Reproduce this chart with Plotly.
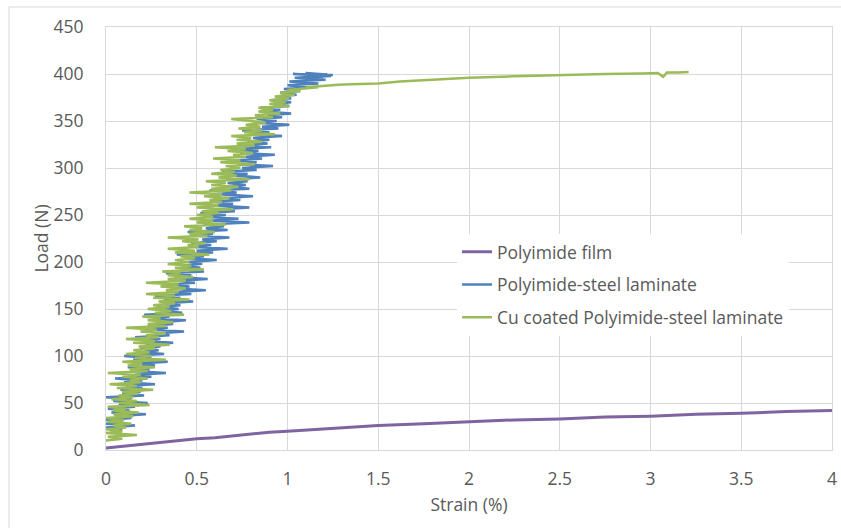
import plotly.graph_objects as go

# ---------------- data ----------------
film_strain = [0.0, 0.1, 0.2, 0.3, 0.4, 0.5, 0.6, 0.7, 0.8, 0.9, 1.0, 1.25, 1.5, 1.75,
               2.0, 2.25, 2.5, 2.75, 3.0, 3.25, 3.5, 3.75, 4.0]
film_load = [2, 4, 6, 8, 10, 12, 13, 15, 17, 19, 20, 23, 26, 28,
             30, 32, 33, 35, 36, 38, 39, 41, 42]

steel_strain = [
    0.09, 0.00, 0.16, 0.00, 0.09, 0.00, 0.14, 0.05, 0.22, 0.03, 0.13, 0.01, 0.16, 0.07, 0.23, 0.04,
    0.14, 0.00, 0.21, 0.09, 0.19, 0.08, 0.20, 0.11, 0.27, 0.10, 0.20, 0.05, 0.25, 0.16, 0.33, 0.14,
    0.24, 0.12, 0.27, 0.18, 0.34, 0.15, 0.25, 0.10,
    0.32, 0.20, 0.29, 0.19, 0.30, 0.22, 0.37, 0.21, 0.30, 0.16, 0.35, 0.27, 0.43, 0.25, 0.34, 0.23,
    0.37, 0.29, 0.44, 0.26, 0.35, 0.21, 0.42, 0.31, 0.40,
    0.30, 0.41, 0.33, 0.48, 0.32, 0.41, 0.27, 0.47, 0.38, 0.55, 0.36, 0.46, 0.34, 0.49, 0.40, 0.56,
    0.38, 0.47, 0.33, 0.54, 0.43, 0.52, 0.42, 0.53, 0.45,
    0.61, 0.44, 0.54, 0.39, 0.59, 0.50, 0.67, 0.49, 0.58, 0.47, 0.61, 0.53, 0.68, 0.50, 0.59, 0.45,
    0.67, 0.55, 0.65, 0.54, 0.79, 0.57, 0.73, 0.56, 0.66,
    0.52, 0.71, 0.63, 0.79, 0.61, 0.70, 0.59, 0.74, 0.65, 0.81, 0.62, 0.72, 0.57, 0.79, 0.67, 0.77,
    0.67, 0.78, 0.70, 0.85, 0.69, 0.78, 0.64, 0.83, 0.75,
    0.92, 0.73, 0.83, 0.71, 0.86, 0.77, 0.93, 0.74, 0.84, 0.69, 0.91, 0.79, 0.89, 0.78, 0.90, 0.81,
    0.97, 0.80, 0.90, 0.75, 0.95, 0.86, 1.01, 0.85, 0.94,
    0.83, 0.97, 0.89, 1.02, 0.87, 0.96, 0.85, 1.01, 0.92, 1.02, 0.91, 1.02, 0.94, 1.05, 0.96, 1.07,
    0.98, 1.12, 1.00, 1.17, 1.01, 1.21, 1.04, 1.24,
    1.03, 1.25, 1.10, 1.19, 1.22, 1.14]
steel_load = [
    22, 24, 26, 28, 30, 32, 34, 36, 38, 40, 42, 44, 46, 48, 50, 52,
    54, 56, 58, 60, 62, 64, 66, 68, 70, 72, 74, 76, 78, 80, 82, 84,
    86, 88, 90, 92, 94, 96, 98, 100,
    102, 104, 106, 108, 110, 112, 114, 116, 118, 120, 122, 124, 126, 128, 130, 132,
    134, 136, 138, 140, 142, 144, 146, 148, 150,
    152, 154, 156, 158, 160, 162, 164, 166, 168, 170, 172, 174, 176, 178, 180, 182,
    184, 186, 188, 190, 192, 194, 196, 198, 200,
    202, 204, 206, 208, 210, 212, 214, 216, 218, 220, 222, 224, 226, 228, 230, 232,
    234, 236, 238, 240, 242, 244, 246, 248, 250,
    252, 254, 256, 258, 260, 262, 264, 266, 268, 270, 272, 274, 276, 278, 280, 282,
    284, 286, 288, 290, 292, 294, 296, 298, 300,
    302, 304, 306, 308, 310, 312, 314, 316, 318, 320, 322, 324, 326, 328, 330, 332,
    334, 336, 338, 340, 342, 344, 346, 348, 350,
    352, 354, 356, 358, 360, 362, 364, 366, 368, 370, 372, 374, 376, 378, 380, 382,
    384, 386, 388, 390, 392, 394, 396, 398,
    400, 399, 401, 397, 400, 395]

cu_strain = [
    0.00, 0.09, 0.01, 0.17, 0.00, 0.09, 0.00, 0.11, 0.04, 0.14, 0.01, 0.10, 0.00, 0.15, 0.04, 0.18,
    0.04, 0.11, 0.01, 0.24, 0.07, 0.17, 0.03, 0.15, 0.07, 0.18, 0.09, 0.26, 0.06, 0.17, 0.02, 0.19,
    0.13, 0.23, 0.09, 0.19, 0.01, 0.23, 0.13, 0.27, 0.12, 0.20, 0.09, 0.33, 0.16, 0.25,
    0.11, 0.24, 0.15, 0.27, 0.18, 0.35, 0.15, 0.27, 0.11, 0.29, 0.22, 0.33, 0.19, 0.28, 0.11, 0.33,
    0.23, 0.37, 0.23, 0.30, 0.20, 0.43, 0.27, 0.36, 0.23, 0.35, 0.26, 0.38, 0.29, 0.46, 0.26, 0.38,
    0.22, 0.40, 0.33, 0.44, 0.30, 0.40, 0.22, 0.44, 0.34, 0.48, 0.34, 0.41, 0.31, 0.54, 0.38, 0.47,
    0.34, 0.46,
    0.38, 0.49, 0.41, 0.57, 0.38, 0.49, 0.34, 0.51, 0.45, 0.55, 0.42, 0.51, 0.34, 0.56, 0.46, 0.60,
    0.46, 0.53, 0.43, 0.66, 0.50, 0.59, 0.46, 0.59, 0.50, 0.62, 0.53, 0.70, 0.50, 0.62, 0.46, 0.64,
    0.57, 0.68, 0.54, 0.64, 0.46, 0.69, 0.58, 0.73, 0.58, 0.66, 0.55, 0.79, 0.62, 0.72, 0.58, 0.71,
    0.63, 0.74,
    0.66, 0.82, 0.63, 0.74, 0.59, 0.77, 0.70, 0.81, 0.67, 0.77, 0.60, 0.82, 0.72, 0.86, 0.72, 0.80,
    0.69, 0.93, 0.76, 0.86, 0.73, 0.85, 0.77, 0.88, 0.80,
    0.69, 0.92, 0.82, 0.96, 0.84, 0.92, 0.84, 1.01, 0.90, 0.99, 0.90, 1.01, 0.93, 1.04, 0.96, 1.07,
    1.00, 1.12, 1.06, 1.17, 1.10, 1.22, 1.16, 1.28, 1.35, 1.42, 1.50, 1.62, 1.75, 1.88, 2.00, 2.25,
    2.50, 2.75, 2.95, 3.04, 3.07, 3.09, 3.15, 3.21]
cu_load = [
    10, 12, 14, 16, 18, 20, 22, 24, 26, 28, 30, 32, 34, 36, 38, 40,
    42, 44, 46, 48, 50, 52, 54, 56, 58, 60, 62, 64, 66, 68, 70, 72,
    74, 76, 78, 80, 82, 84, 86, 88, 90, 92, 94, 96, 98, 100,
    102, 104, 106, 108, 110, 112, 114, 116, 118, 120, 122, 124, 126, 128, 130, 132,
    134, 136, 138, 140, 142, 144, 146, 148, 150, 152, 154, 156, 158, 160, 162, 164,
    166, 168, 170, 172, 174, 176, 178, 180, 182, 184, 186, 188, 190, 192, 194, 196,
    198, 200,
    202, 204, 206, 208, 210, 212, 214, 216, 218, 220, 222, 224, 226, 228, 230, 232,
    234, 236, 238, 240, 242, 244, 246, 248, 250, 252, 254, 256, 258, 260, 262, 264,
    266, 268, 270, 272, 274, 276, 278, 280, 282, 284, 286, 288, 290, 292, 294, 296,
    298, 300,
    302, 304, 306, 308, 310, 312, 314, 316, 318, 320, 322, 324, 326, 328, 330, 332,
    334, 336, 338, 340, 342, 344, 346, 348, 350,
    352, 354, 356, 358, 360, 362, 364, 366, 368, 370, 372, 374, 376, 378, 380, 382,
    383, 385, 384, 386, 386, 388, 387, 388.5, 389, 389.5, 390, 392, 393.5, 395, 396, 397.5,
    399, 400, 400.5, 401, 397, 401.5, 401.5, 402]

series_names = ["Polyimide film", "Polyimide-steel laminate", "Cu coated Polyimide-steel laminate"]
x_ticks = [0, 0.5, 1, 1.5, 2, 2.5, 3, 3.5, 4]
y_ticks = [0, 50, 100, 150, 200, 250, 300, 350, 400, 450]

# ---------------- figure ----------------
FONT = "Open Sans"
FS = 17.5
TXT = "#595959"
GRID = "#d9d9d9"

fig = go.Figure()
fig.add_trace(go.Scatter(x=film_strain, y=film_load, mode="lines", name=series_names[0],
                         legendgroup="a", line=dict(color="#8064A2", width=3)))
fig.add_trace(go.Scatter(x=steel_strain, y=steel_load, mode="lines", name=series_names[1],
                         legendgroup="b", line=dict(color="#4F81BD", width=2.5)))
fig.add_trace(go.Scatter(x=cu_strain, y=cu_load, mode="lines", name=series_names[2],
                         legendgroup="c", line=dict(color="#9BBB59", width=2.5)))

fig.update_layout(
    width=841, height=528,
    margin=dict(l=106, r=9, t=27, b=78, autoexpand=False),
    paper_bgcolor="white", plot_bgcolor="white",
    font=dict(family=FONT, size=FS, color=TXT),
    showlegend=True,
    legend=dict(x=0.4835, y=0.511, xanchor="left", yanchor="top",
                bgcolor="white", borderwidth=0, traceorder="grouped",
                tracegroupgap=7, font=dict(family=FONT, size=FS, color=TXT),
                itemwidth=30),
    xaxis=dict(range=[0, 4], tickvals=x_ticks, ticktext=[str(v) for v in x_ticks],
               automargin=False,
               showgrid=True, gridcolor=GRID, gridwidth=1,
               zeroline=False, showline=True, linecolor=GRID, mirror=True,
               ticks="", ticklabelstandoff=13,
               tickfont=dict(family=FONT, size=FS, color=TXT),
               title=dict(text="Strain (%)", standoff=9,
                          font=dict(family=FONT, size=FS, color=TXT))),
    yaxis=dict(range=[0, 450], tickvals=y_ticks, automargin=False,
               showgrid=True, gridcolor=GRID, gridwidth=1,
               zeroline=False, showline=True, linecolor=GRID, mirror=True,
               ticks="", ticklabelstandoff=18,
               tickfont=dict(family=FONT, size=FS, color=TXT),
               title=dict(text="Load (N)", standoff=0,
                          font=dict(family=FONT, size=FS, color=TXT))),
    shapes=[
        dict(type="rect", xref="paper", yref="paper",
             x0=-0.1336, x1=1.05, y0=-0.4, y1=1.0473,
             line=dict(color=GRID, width=1), layer="below"),
        dict(type="rect", xref="paper", yref="paper",
             x0=0.456, x1=0.9766, y0=0.267, y1=0.513,
             line=dict(width=0), fillcolor="white", layer="between"),
    ],
)

fig.write_html("out.html")
